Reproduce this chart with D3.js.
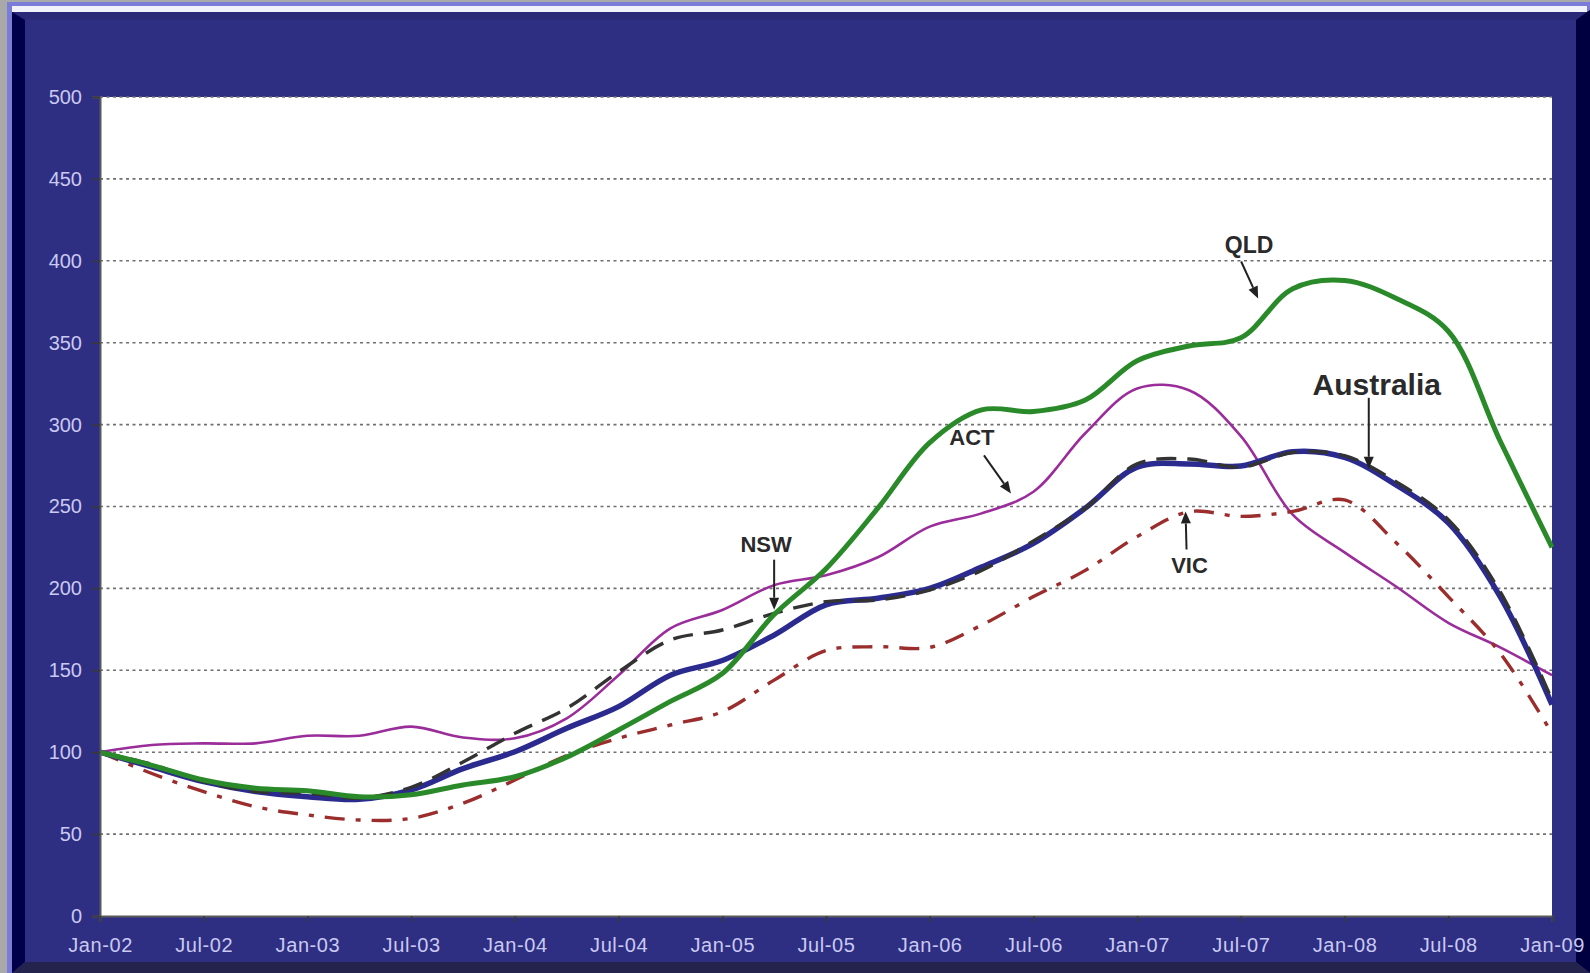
<!DOCTYPE html>
<html>
<head>
<meta charset="utf-8">
<title>House price index by state, Jan-02 = 100</title>
<script src="https://cdn.jsdelivr.net/npm/d3@7"></script>
<style>
  body { margin: 0; background: #a9a9a9; overflow: hidden; }
  svg { display: block; font-family: "Liberation Sans", Arial, sans-serif; }
</style>
</head>
<body>
<div id="chart"></div>
<script>

// Quarterly readings, Jan-02 .. Jan-09 (index, Jan-02 = 100)
const quarters = ["Jan-02","Apr-02","Jul-02","Oct-02","Jan-03","Apr-03","Jul-03","Oct-03",
                  "Jan-04","Apr-04","Jul-04","Oct-04","Jan-05","Apr-05","Jul-05","Oct-05",
                  "Jan-06","Apr-06","Jul-06","Oct-06","Jan-07","Apr-07","Jul-07","Oct-07",
                  "Jan-08","Apr-08","Jul-08","Oct-08","Jan-09"];

const qld = [100, 92, 83, 78, 76.5, 72.8, 74, 80, 85, 97, 113.6, 131, 148, 184, 212, 249, 289, 309, 308, 315,
             339, 348, 353, 383, 388, 377, 357, 290, 225];
const act = [100, 104.4, 105.4, 105.4, 110, 110, 115.6, 109, 108.5, 120.7, 147, 175.6, 186.8, 202, 208, 219,
             237.7, 245.8, 259, 294.7, 322, 321, 293, 245, 222, 201, 179, 164, 147];
const australia = [100, 91, 82, 76, 72.8, 71.2, 77, 90, 100.3, 114.6, 127.8, 147, 156, 171.5, 190, 194, 200,
                   213, 227.5, 249, 274, 276, 274.7, 283.5, 280, 263, 240, 195, 129];
const nsw = [100, 92.6, 82, 76, 74.9, 72, 78.6, 94, 111.5, 126.8, 149, 168.5, 174.6, 184.8, 191.9, 193, 199,
             211, 229, 249, 276, 279, 274, 283, 281, 265, 242, 198, 132];
const vic = [100, 87, 75.9, 66.7, 61.7, 58.6, 59.6, 68.8, 83, 98, 108.5, 116.6, 124.7, 144, 162, 164.4, 164,
             177.6, 195, 211, 231.6, 246.8, 244, 247, 254, 227.7, 195, 160.5, 111.5];

const xTicks = ["Jan-02","Jul-02","Jan-03","Jul-03","Jan-04","Jul-04","Jan-05","Jul-05",
                "Jan-06","Jul-06","Jan-07","Jul-07","Jan-08","Jul-08","Jan-09"];
const yTicks = [0, 50, 100, 150, 200, 250, 300, 350, 400, 450, 500];

// Page and plot dimensions
const width = 1590;
const height = 973;
const plot = {left: 100, right: 1552, top: 97, bottom: 916};

const parseMonth = d3.timeParse("%b-%y");
const start = parseMonth("Jan-02");
const monthIndex = s => d3.timeMonth.count(start, parseMonth(s));

const svg = d3.select("#chart")
  .append("svg")
  .attr("width", width)
  .attr("height", height);

/*
  Frame (bevelled navy panel)
*/
const frame = svg.append("g");
frame.append("rect").attr("x", 7).attr("y", 2).attr("width", width - 7).attr("height", height - 2)
  .attr("fill", "#7b7bd8");
frame.append("rect").attr("x", 12).attr("y", 6).attr("width", width - 15).attr("height", 7)
  .attr("fill", "#f2f2fb");
frame.append("rect").attr("x", 12).attr("y", 12).attr("width", width - 12).attr("height", height - 12)
  .attr("fill", "#2e2e82");
const bevels = [
  {pts: [[12,12],[1587,12],[1576,20],[25,20]], fill: "#2a2a78"},
  {pts: [[12,12],[25,20],[25,962],[12,973]], fill: "#00004a"},
  {pts: [[1587,12],[width,10],[width,height],[1576,962],[1576,20]], fill: "#000040"},
  {pts: [[12,height],[25,962],[1576,962],[width,height]], fill: "#23234e"}
];
frame.selectAll("polygon")
  .data(bevels)
  .enter()
  .append("polygon")
    .attr("points", d => d.pts.map(p => p.join(",")).join(" "))
    .attr("fill", d => d.fill);

// White plot area
svg.append("rect")
  .attr("x", plot.left).attr("y", plot.top)
  .attr("width", plot.right - plot.left).attr("height", plot.bottom - plot.top)
  .attr("fill", "#ffffff");

/*
  Scales
*/
const xScale = d3.scaleLinear()
  .domain([0, monthIndex("Jan-09")])
  .range([plot.left, plot.right]);

const yScale = d3.scaleLinear()
  .domain([0, 500])
  .range([plot.bottom, plot.top]);

// Dotted gridlines
svg.append("g")
  .selectAll("line")
  .data(yTicks.filter(v => v > 0))
  .enter()
  .append("line")
    .attr("x1", plot.left).attr("x2", plot.right)
    .attr("y1", d => yScale(d)).attr("y2", d => yScale(d))
    .attr("stroke", "#707070")
    .attr("stroke-width", 1.6)
    .attr("stroke-dasharray", "3,3.5");

/*
  Series
*/
const series = [
  {name: "ACT", values: act, color: "#9a2d9a", width: 2.6, dash: null},
  {name: "VIC", values: vic, color: "#9b2d2d", width: 3.4, dash: "20,11,5,11"},
  {name: "Australia", values: australia, color: "#2b2b8f", width: 5.5, dash: null},
  {name: "NSW", values: nsw, color: "#333333", width: 3.4, dash: "20,11"},
  {name: "QLD", values: qld, color: "#2a8a2a", width: 5, dash: null}
];

const line = d3.line()
  .x((d, i) => xScale(monthIndex(quarters[i])))
  .y(d => yScale(d))
  .curve(d3.curveCatmullRom.alpha(0.5));

svg.append("g")
  .selectAll("path")
  .data(series)
  .enter()
  .append("path")
    .attr("d", d => line(d.values))
    .attr("fill", "none")
    .attr("stroke", d => d.color)
    .attr("stroke-width", d => d.width)
    .attr("stroke-dasharray", d => d.dash)
    .attr("stroke-linejoin", "round");

/*
  Axes
*/
const yAxis = svg.append("g")
  .attr("transform", `translate(${plot.left},0)`)
  .call(d3.axisLeft(yScale).tickValues(yTicks).tickSize(8).tickPadding(10));

const xAxis = svg.append("g")
  .attr("transform", `translate(0,${plot.bottom})`)
  .call(d3.axisBottom(xScale)
          .tickValues(xTicks.map(monthIndex))
          .tickFormat((d, i) => xTicks[i])
          .tickSize(6).tickPadding(16));

[yAxis, xAxis].forEach(ax => {
  ax.select(".domain").attr("stroke", "#5a5a5a").attr("stroke-width", 2);
  ax.selectAll(".tick line").attr("stroke", "#3a3a3a").attr("stroke-width", 1.6);
  ax.selectAll("text")
    .attr("fill", "#c9c9f1")
    .attr("font-size", "20px")
    .attr("font-family", "'Liberation Sans', Arial, sans-serif");
});
xAxis.selectAll("text").attr("letter-spacing", "0.6px");

/*
  Callouts: arrow tip in data units, tail and label offsets in px
*/
const notes = [
  {text: "NSW", month: 39.0, value: 187, tail: [0, -50], label: [-8, -58], size: 22},
  {text: "QLD", month: 67.0, value: 377, tail: [-17, -37], label: [-9, -45], size: 23},
  {text: "Australia", month: 73.4, value: 273, tail: [0, -71], label: [8, -74], size: 30},
  {text: "ACT", month: 52.7, value: 258, tail: [-27, -38], label: [-39, -48], size: 22},
  {text: "VIC", month: 62.8, value: 247, tail: [1, 38], label: [4, 62], size: 22}
];

const noteG = svg.append("g");
notes.forEach(n => {
  const tx = xScale(n.month), ty = yScale(n.value);
  const sx = tx + n.tail[0], sy = ty + n.tail[1];
  const ang = Math.atan2(ty - sy, tx - sx);
  const headLen = 12, headW = 5;
  const bx = tx - headLen * Math.cos(ang), by = ty - headLen * Math.sin(ang);
  noteG.append("line")
    .attr("x1", sx).attr("y1", sy).attr("x2", bx).attr("y2", by)
    .attr("stroke", "#222").attr("stroke-width", 2);
  noteG.append("polygon")
    .attr("points", [
      [tx, ty],
      [bx + headW * Math.sin(ang), by - headW * Math.cos(ang)],
      [bx - headW * Math.sin(ang), by + headW * Math.cos(ang)]
    ].map(p => p.join(",")).join(" "))
    .attr("fill", "#222");
  noteG.append("text")
    .attr("x", tx + n.label[0])
    .attr("y", ty + n.label[1])
    .attr("text-anchor", "middle")
    .attr("font-size", n.size + "px")
    .attr("font-weight", "bold")
    .attr("fill", "#2a2a2a")
    .text(n.text);
});

</script>
</body>
</html>
